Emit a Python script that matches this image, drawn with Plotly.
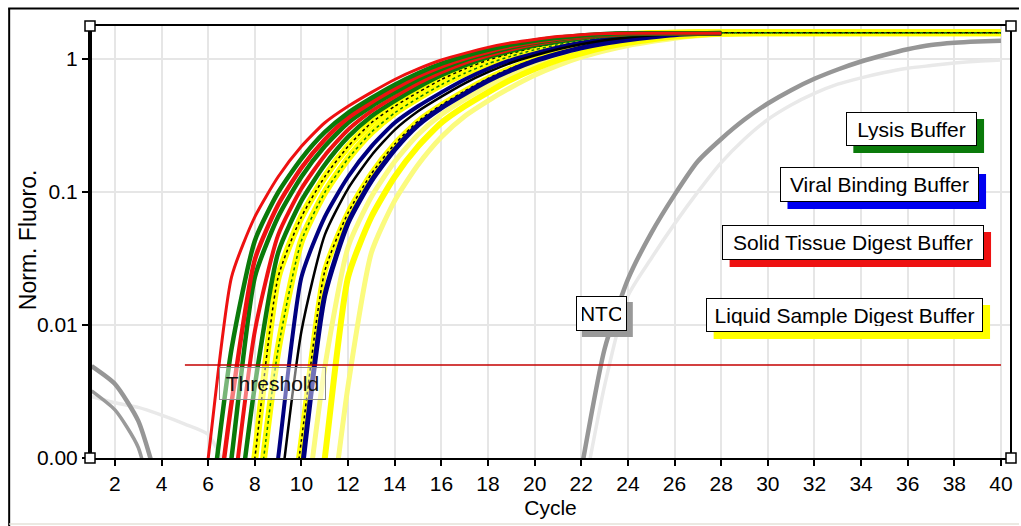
import plotly.graph_objects as go

N = None
CYCLES = list(range(1, 41))

# ---- amplification curves (normalised fluorescence per cycle, None = not drawn) ----
red_a = [N]*4 + [0.00004, 0.001, 0.0229, 0.065, 0.13, 0.22, 0.331, 0.44, 0.56, 0.70, 0.84, 0.98,
                 1.10, 1.22, 1.32, 1.40, 1.47, 1.52, 1.55, 1.56, 1.56, 1.56, 1.56, 1.56]
green_a = [N]*5 + [0.00028, 0.0066, 0.043, 0.099, 0.178, 0.281, 0.393, 0.508, 0.64, 0.78, 0.92,
                   1.05, 1.17, 1.28, 1.37, 1.44, 1.50, 1.54, 1.56, 1.56, 1.56, 1.56, 1.56]
red_b = [N]*5 + [0.00011, 0.0026, 0.031, 0.080, 0.152, 0.248, 0.361, 0.472, 0.598, 0.74, 0.879,
                 1.01, 1.13, 1.25, 1.34, 1.42, 1.48, 1.53, 1.55, 1.56, 1.56, 1.56, 1.56]
green_b = [N]*5 + [0.00004, 0.001, 0.0229, 0.065, 0.13, 0.22, 0.331, 0.44, 0.56, 0.70, 0.84, 0.98,
                   1.10, 1.22, 1.32, 1.40, 1.47, 1.52, 1.55, 1.56, 1.56, 1.56, 1.56]
red_c = [N]*6 + [0.00039, 0.009, 0.0475, 0.106, 0.188, 0.293, 0.404, 0.52, 0.655, 0.794, 0.935,
                 1.06, 1.18, 1.29, 1.38, 1.45, 1.50, 1.54, 1.56, 1.56, 1.56, 1.56]
green_c = [N]*6 + [0.00015, 0.0035, 0.035, 0.086, 0.16, 0.259, 0.371, 0.484, 0.612, 0.753, 0.893,
                   1.03, 1.15, 1.26, 1.35, 1.43, 1.49, 1.53, 1.55, 1.56, 1.56, 1.56]
yellow_a = [N]*6 + [0.00004, 0.001, 0.0229, 0.065, 0.13, 0.22, 0.331, 0.44, 0.56, 0.70, 0.84, 0.98,
                    1.10, 1.22, 1.32, 1.40, 1.47, 1.52, 1.55, 1.56] + [1.57]*14
yellow_b = [N]*7 + [0.00028, 0.0066, 0.043, 0.099, 0.178, 0.281, 0.393, 0.508, 0.64, 0.78, 0.92,
                    1.05, 1.17, 1.28, 1.37, 1.44, 1.50, 1.54, 1.56] + [1.57]*14
navy_a = [N]*7 + [0.00004, 0.001, 0.0229, 0.065, 0.13, 0.22, 0.331, 0.44, 0.56, 0.70, 0.84, 0.98,
                  1.10, 1.22, 1.32, 1.40, 1.47, 1.52, 1.55, 1.56, 1.56]
black_a = [N]*8 + [0.00039, 0.009, 0.0475, 0.106, 0.188, 0.293, 0.404, 0.52, 0.655, 0.794, 0.935,
                   1.06, 1.18, 1.29, 1.38, 1.45, 1.50, 1.54, 1.56, 1.56]
yellow_c = [N]*8 + [0.00006, 0.00137, 0.0254, 0.0697, 0.137, 0.229, 0.34, 0.45, 0.573, 0.713, 0.853,
                    0.99, 1.11, 1.23, 1.33, 1.41, 1.47, 1.52, 1.55] + [1.57]*13
navy_b = [N]*9 + [0.00073, 0.0167, 0.0586, 0.121, 0.208, 0.318, 0.428, 0.546, 0.684, 0.824, 0.964,
                  1.09, 1.21, 1.31, 1.39, 1.46, 1.52, 1.55, 1.56]
pale_a = [N]*9 + [0.00021, 0.0048, 0.0386, 0.0919, 0.169, 0.27, 0.381, 0.496, 0.626, 0.766, 0.907,
                  1.04, 1.16, 1.27, 1.36, 1.43, 1.49, 1.53, 1.55] + [1.57]*12
yellow_d = [N]*9 + [0.00004, 0.001, 0.0229, 0.065, 0.13, 0.22, 0.331, 0.44, 0.56, 0.70, 0.84, 0.98,
                    1.10, 1.22, 1.32, 1.40, 1.47, 1.52, 1.55, 1.56] + [1.57]*11
pale_b = [N]*10 + [0.00015, 0.0035, 0.035, 0.086, 0.16, 0.259, 0.371, 0.484, 0.612, 0.753, 0.893,
                   1.03, 1.15, 1.26, 1.35, 1.43, 1.49, 1.53, 1.55] + [1.57]*11

# ---- no-template controls ----
ntc_dark = [0.0049, 0.0036, 0.0019, 0.0005] + [N]*17 + [
    0.00081, 0.0066, 0.022, 0.049, 0.095, 0.17, 0.25, 0.35, 0.462, 0.582, 0.708, 0.832, 0.955,
    1.07, 1.18, 1.27, 1.32, 1.35, 1.37]
ntc_dark2 = [0.0032, 0.0023, 0.0012, 0.0002]
ntc_light = [0.0029, 0.0026, 0.0024, 0.0021, 0.0018, 0.0015, 0.00066] + [N]*14 + [
    0.00044, 0.0035, 0.0165, 0.0316, 0.0575, 0.10, 0.166, 0.25, 0.35, 0.45, 0.55, 0.645, 0.72,
    0.79, 0.85, 0.89, 0.93, 0.96, 0.98]

THRESHOLD = 0.005
THRESHOLD_CYCLES = [5, 40]

X_TICKS = list(range(2, 41, 2))
Y_TICKS = [0.001, 0.01, 0.1, 1]
Y_TICK_TEXT = ["0.00", "0.01", "0.1", "1"]

LABELS = ["Lysis Buffer", "Viral Binding Buffer", "Solid Tissue Digest Buffer",
          "Liquid Sample Digest Buffer"]
LABEL_COLORS = ["#0a7a0a", "#0000f0", "#ee1111", "#ffff00"]

RED, GREEN, YELLOW, PALE, NAVY = "#ee1111", "#0a7a0a", "#ffff00", "#fbfb7e", "#000080"

fig = go.Figure()


def add(y, color, width, dash="solid"):
    fig.add_trace(go.Scatter(
        x=CYCLES[:len(y)], y=y, mode="lines",
        line=dict(color=color, width=width, dash=dash, shape="spline", smoothing=0.6),
        hoverinfo="skip", showlegend=False, connectgaps=False))


# NTC curves
add(ntc_light, "#e9e9e9", 3.5)
add(ntc_dark2, "#9a9a9a", 3.5)
add(ntc_dark, "#969696", 4.5)

# yellow group
add(pale_b, PALE, 5)
add(pale_a, PALE, 5)
add(yellow_d, YELLOW, 6)
add(yellow_c, YELLOW, 6)
add(yellow_b, YELLOW, 7)
add(yellow_a, YELLOW, 7)
add(yellow_c, "#000000", 1.5, "dot")
add(yellow_a, "#000000", 1.5, "dot")
add(yellow_b, GREEN, 1.5, "dot")

# navy / black
add(navy_b, NAVY, 5)
add(navy_a, NAVY, 4)
add(black_a, "#000000", 2.5)

# green / red group
add(green_c, GREEN, 4.5)
add(red_c, RED, 4)
add(green_b, GREEN, 4.5)
add(red_b, RED, 4.5)
add(green_a, GREEN, 4.5)
add(red_a, RED, 3)

# threshold
fig.add_trace(go.Scatter(x=THRESHOLD_CYCLES, y=[THRESHOLD]*2, mode="lines",
                         line=dict(color="#c40000", width=1.5),
                         hoverinfo="skip", showlegend=False))

FONT = "Liberation Sans, Arial, sans-serif"


# ---- plot-area geometry: pixel -> paper ----
def px_x(px):
    return (px - 90) / 923.0


def px_y(py):
    return (458 - py) / 432.0


annotations = []
shapes = []

# label boxes in pixels: (left, right, top, bottom)
label_boxes = [(848, 979, 112, 146), (782, 981, 167, 202), (724, 986, 225, 260),
               (708, 985, 298, 332)]
SH = 7  # shadow offset
for text, col, (l, r, t, b) in zip(LABELS, LABEL_COLORS, label_boxes):
    shapes.append(dict(type="rect", xref="paper", yref="paper",
                       x0=px_x(l + SH), x1=px_x(r + SH), y0=px_y(b + SH), y1=px_y(t + SH),
                       line=dict(width=0), fillcolor=col, layer="above"))
    annotations.append(dict(x=px_x((l + r) / 2), y=px_y((t + b) / 2), xref="paper", yref="paper",
                            xanchor="center", yanchor="middle", text=text, showarrow=False,
                            borderwidth=1, borderpad=5, width=r - l - 12, height=b - t - 12,
                            font=dict(family=FONT, size=21, color="#000"),
                            bgcolor="#ffffff", bordercolor="#000000"))

# NTC label
l, r, t, b = 577, 628, 296, 331
shapes.append(dict(type="rect", xref="paper", yref="paper",
                   x0=px_x(l + 6), x1=px_x(r + 6), y0=px_y(b + 6), y1=px_y(t + 6),
                   line=dict(width=0), fillcolor="#999999", layer="above"))
annotations.append(dict(x=px_x((l + r) / 2), y=px_y((t + b) / 2), xref="paper", yref="paper",
                        xanchor="center", yanchor="middle", text="NTC", showarrow=False,
                        borderwidth=1, borderpad=5, width=r - l - 12, height=b - t - 12,
                        font=dict(family=FONT, size=21, color="#000"),
                        bgcolor="#ffffff", bordercolor="#000000"))
# Threshold label
l, r, t, b = 219, 326, 367, 400
annotations.append(dict(x=px_x((l + r) / 2), y=px_y((t + b) / 2), xref="paper", yref="paper",
                        xanchor="center", yanchor="middle", text="Threshold", showarrow=False,
                        borderwidth=1, borderpad=5, width=r - l - 12, height=b - t - 12,
                        font=dict(family=FONT, size=21, color="#111"),
                        bgcolor="rgba(255,255,255,0.45)", bordercolor="#8a8a8a"))
# y-axis title
annotations.append(dict(x=px_x(28), y=px_y(240), xref="paper", yref="paper",
                        xanchor="center", yanchor="middle", text="Norm. Fluoro.",
                        textangle=-90, showarrow=False,
                        font=dict(family=FONT, size=23, color="#000")))

# thick left axis and right frame line
shapes.append(dict(type="line", xref="paper", yref="paper", x0=0, x1=0, y0=0, y1=1,
                   line=dict(color="#000", width=4), layer="above"))
shapes.append(dict(type="line", xref="paper", yref="paper", x0=1, x1=1, y0=0, y1=1,
                   line=dict(color="#000", width=2), layer="above"))
# corner handles
for cx, cy in [(0, 0), (0, 1), (1, 0), (1, 1)]:
    shapes.append(dict(type="rect", xref="paper", yref="paper", xsizemode="pixel",
                       ysizemode="pixel", xanchor=cx, yanchor=cy, x0=-5, x1=5, y0=-5, y1=5,
                       line=dict(color="#000", width=1.5), fillcolor="#ffffff", layer="above"))
# outer window frame
shapes.append(dict(type="line", xref="paper", yref="paper", x0=px_x(9), x1=px_x(9),
                   y0=px_y(526), y1=px_y(8.5), line=dict(color="#000", width=2)))
shapes.append(dict(type="line", xref="paper", yref="paper", x0=px_x(8), x1=px_x(1021),
                   y0=px_y(8.5), y1=px_y(8.5), line=dict(color="#000", width=2)))
shapes.append(dict(type="line", xref="paper", yref="paper", x0=px_x(9), x1=px_x(1021),
                   y0=px_y(524), y1=px_y(524), line=dict(color="#e4e2d8", width=1.5)))

fig.update_layout(
    width=1021, height=526,
    margin=dict(l=90, r=8, t=26, b=68),
    paper_bgcolor="#ffffff", plot_bgcolor="#ffffff",
    showlegend=False,
    font=dict(family=FONT, size=21, color="#000"),
    annotations=annotations, shapes=shapes,
    xaxis=dict(range=[0.93, 40.43], tickvals=X_TICKS, ticks="outside", ticklen=6,
               tickwidth=1.5, tickcolor="#000", showgrid=True, gridcolor="#e6e6e6",
               gridwidth=1.5, showline=True, linecolor="#000", linewidth=2, mirror=True,
               zeroline=False, tickfont=dict(size=21),
               title=dict(text="Cycle", standoff=6, font=dict(size=21))),
    yaxis=dict(type="log", range=[-3.0, 0.247], tickvals=Y_TICKS, ticktext=Y_TICK_TEXT,
               ticks="outside", ticklen=6, tickwidth=1.5, tickcolor="#000", showgrid=True,
               gridcolor="#e6e6e6", gridwidth=1.5, showline=True, linecolor="#000",
               linewidth=2, zeroline=False, tickfont=dict(size=21)),
)

fig.write_html("out.html")
